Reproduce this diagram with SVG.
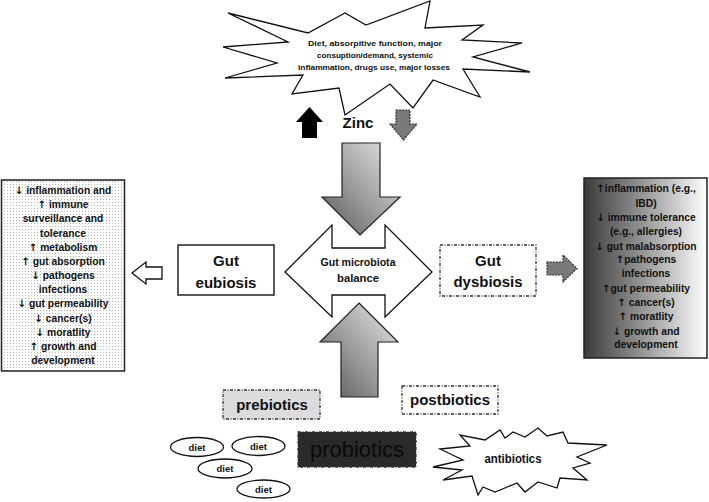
<svg xmlns="http://www.w3.org/2000/svg" width="709" height="502" viewBox="0 0 709 502">
<defs>
<linearGradient id="gArrow" x1="1" y1="0" x2="0" y2="1">
<stop offset="0" stop-color="#e8e8e8"/>
<stop offset="0.55" stop-color="#9a9a9a"/>
<stop offset="1" stop-color="#555"/>
</linearGradient>
<linearGradient id="gDys" x1="0" y1="0" x2="1" y2="0">
<stop offset="0" stop-color="#3a3a3a"/>
<stop offset="0.5" stop-color="#9a9a9a"/>
<stop offset="1" stop-color="#ffffff"/>
</linearGradient>
<pattern id="dots" width="3" height="3" patternUnits="userSpaceOnUse">
<rect width="3" height="3" fill="#fff"/>
<rect x="1" y="1" width="1" height="1" fill="#b5b5b5"/>
</pattern>
</defs>
<style>
text{font-family:"Liberation Sans",Arial,sans-serif;fill:#111;text-anchor:middle}
.b{font-weight:bold}
.box{stroke:#222;stroke-width:1.5}
.dash{stroke:#333;stroke-width:1.3;stroke-dasharray:3,1.5,1,1.5}
.lst{font-size:10.3px;font-weight:bold}
.ar{font-family:"DejaVu Sans",sans-serif;font-weight:bold;fill:#111}
.out{fill:#fff;stroke:#111;stroke-width:1.3}
</style>
<rect width="709" height="502" fill="#fff"/>

<g id="factors">
<polygon class="out" points="228,13 308,33 345,13 366,25 430,1 425,28 483,25 462,40 522,43 473,57 530,72 463,69 480,97 433,80 413,108 390,84 345,115 339,88 292,94 303,75 225,78 277,63 223,47 288,42"/>
<text class="b" font-size="8" x="375" y="46" textLength="134" lengthAdjust="spacingAndGlyphs">Diet,  absorpitive function, major</text>
<text class="b" font-size="8" x="375" y="58" textLength="116" lengthAdjust="spacingAndGlyphs">consuption/demand, systemic</text>
<text class="b" font-size="8" x="374" y="70" textLength="152" lengthAdjust="spacingAndGlyphs">inflammation, drugs use, major losses</text>
</g>

<g id="zinc">
<text class="b" font-size="15" x="358" y="128">Zinc</text>
</g>

<g id="connectors">
<path d="M309.5,107 L323,122 H317 V138 H302 V122 H296 Z" fill="#000"/>
<path d="M396,110 H410 V124 H417 L403.5,140 L390,124 H396 Z" fill="#7a7a7a" stroke="#333" stroke-width="1.2" stroke-dasharray="2,1"/>
<path d="M342,143 H380 V197 H400 L360,235 L322,197 H342 Z" fill="url(#gArrow)" stroke="#222" stroke-width="1.2"/>
<path d="M359,303 L398,342 H378 V397 H341 V342 H320 Z" fill="url(#gArrow)" stroke="#222" stroke-width="1.2"/>
<path class="out" d="M132,273 L146,262 V267 H162 V279 H146 V284 Z"/>
<path d="M547,262 H563 V255 L577,268.5 L563,282 V275 H547 Z" fill="#7a7a7a" stroke="#333" stroke-width="1.2" stroke-dasharray="2,1"/>
</g>

<g id="balance">
<path class="out" d="M285,272 L332,225 V248 H385 V225 L432,272 L385,317 V295 H332 V317 Z"/>
<text font-size="11.5" x="358" y="266" style="font-weight:bold" textLength="75" lengthAdjust="spacingAndGlyphs">Gut microbiota</text>
<text font-size="11.5" x="358" y="282" style="font-weight:bold" textLength="42" lengthAdjust="spacingAndGlyphs">balance</text>
</g>

<g id="eubiosis">
<rect class="box" x="178" y="245" width="96" height="50" fill="#fff"/>
<text class="b" font-size="15" x="226" y="266">Gut</text>
<text class="b" font-size="15" x="226" y="288">eubiosis</text>
</g>

<g id="dysbiosis">
<rect class="dash" x="440" y="245" width="96" height="51" fill="#fff"/>
<text class="b" font-size="15" x="488" y="266">Gut</text>
<text class="b" font-size="15" x="488" y="287">dysbiosis</text>
</g>

<g id="eubiosis-effects">
<rect class="box" x="1.5" y="180" width="123" height="191" fill="url(#dots)"/>
<text class="lst" x="63" y="194"><tspan class="ar">↓</tspan> inflammation and</text>
<text class="lst" x="63" y="208"><tspan class="ar">↑</tspan> immune</text>
<text class="lst" x="63" y="222">surveillance and</text>
<text class="lst" x="63" y="237">tolerance</text>
<text class="lst" x="63" y="251"><tspan class="ar">↑</tspan> metabolism</text>
<text class="lst" x="63" y="265"><tspan class="ar">↑</tspan> gut absorption</text>
<text class="lst" x="63" y="279"><tspan class="ar">↓</tspan> pathogens</text>
<text class="lst" x="63" y="293">infections</text>
<text class="lst" x="63" y="307"><tspan class="ar">↓</tspan> gut permeability</text>
<text class="lst" x="63" y="322"><tspan class="ar">↓</tspan> cancer(s)</text>
<text class="lst" x="63" y="336"><tspan class="ar">↓</tspan> moratlity</text>
<text class="lst" x="63" y="350"><tspan class="ar">↑</tspan> growth and</text>
<text class="lst" x="63" y="364">development</text>
</g>

<g id="dysbiosis-effects">
<rect class="box" x="584" y="178" width="123" height="180" fill="url(#gDys)"/>
<text class="lst" x="646" y="192"><tspan class="ar">↑</tspan>inflammation (e.g.,</text>
<text class="lst" x="646" y="207">IBD)</text>
<text class="lst" x="646" y="221"><tspan class="ar">↓</tspan> immune tolerance</text>
<text class="lst" x="646" y="235">(e.g., allergies)</text>
<text class="lst" x="646" y="250"><tspan class="ar">↓</tspan> gut malabsorption</text>
<text class="lst" x="646" y="263"><tspan class="ar">↑</tspan>pathogens</text>
<text class="lst" x="646" y="277">infections</text>
<text class="lst" x="646" y="292"><tspan class="ar">↑</tspan>gut permeability</text>
<text class="lst" x="646" y="306"><tspan class="ar">↑</tspan> cancer(s)</text>
<text class="lst" x="646" y="320"><tspan class="ar">↑</tspan> moratlity</text>
<text class="lst" x="646" y="335"><tspan class="ar">↓</tspan> growth and</text>
<text class="lst" x="646" y="348">development</text>
</g>

<g id="prebiotics">
<rect class="dash" x="223" y="390" width="97" height="29" fill="#dcdcdc"/>
<text class="b" font-size="15" x="272" y="410">prebiotics</text>
</g>

<g id="postbiotics">
<rect class="dash" x="402" y="386" width="96" height="28" fill="#fff"/>
<text class="b" font-size="15" x="450" y="405">postbiotics</text>
</g>

<g id="probiotics">
<rect class="dash" x="298" y="432" width="118" height="35" fill="#2a2a2a"/>
<text font-size="22" x="357" y="457" style="fill:#0a0a0a">probiotics</text>
</g>

<g id="diet1">
<ellipse class="out" cx="197" cy="447" rx="26.5" ry="9.5"/>
<text class="b" font-size="9.5" x="197" y="450.5">diet</text>
</g>
<g id="diet2">
<ellipse class="out" cx="258.5" cy="446" rx="26.5" ry="9.5"/>
<text class="b" font-size="9.5" x="258.5" y="449.5">diet</text>
</g>
<g id="diet3">
<ellipse class="out" cx="225" cy="468.5" rx="27" ry="9.5"/>
<text class="b" font-size="9.5" x="225" y="472">diet</text>
</g>
<g id="diet4">
<ellipse class="out" cx="263.5" cy="489" rx="26.5" ry="9"/>
<text class="b" font-size="9.5" x="263.5" y="492.5">diet</text>
</g>

<g id="antibiotics">
<polygon class="out" points="433,467 463,460 440,449 470,446 460,435 485,440 500,430 505,438 513,432 525,437 538,428 547,436 563,432 568,443 607,445 577,457 590,463 573,468 587,480 560,478 557,488 538,482 525,492 517,483 495,492 483,487 478,495 472,476 443,480 462,470"/>
<text font-size="12.5" x="513" y="463" style="font-weight:bold" textLength="57" lengthAdjust="spacingAndGlyphs">antibiotics</text>
</g>
</svg>
